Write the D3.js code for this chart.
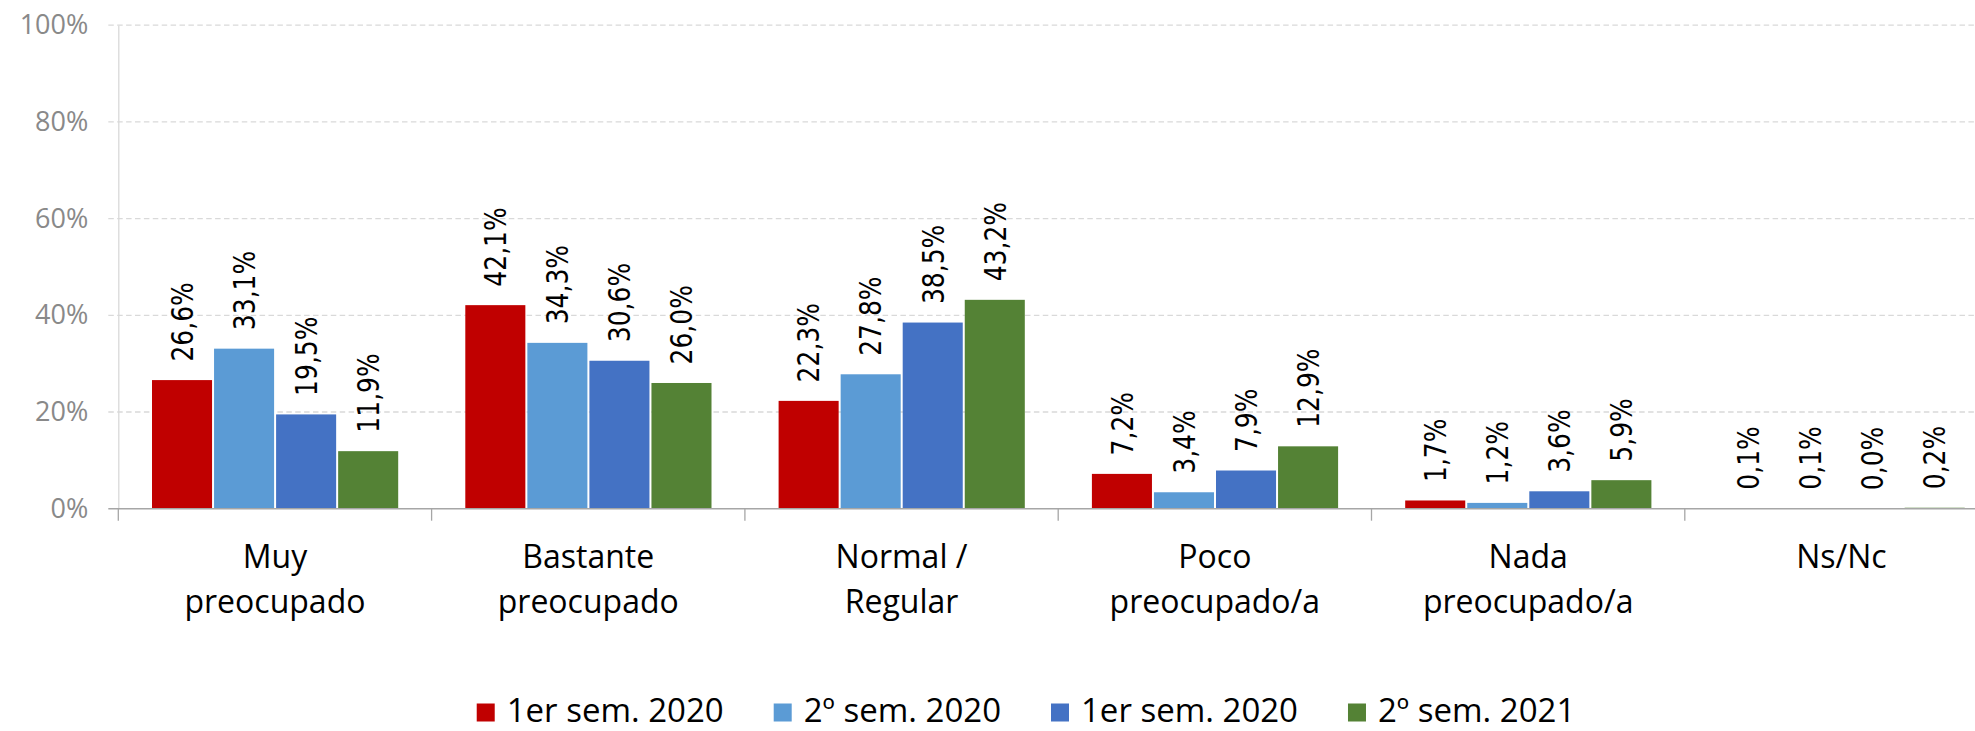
<!DOCTYPE html>
<html>
<head>
<meta charset="utf-8">
<script src="https://cdn.jsdelivr.net/npm/d3@7"></script>
<style>
  html, body { margin: 0; padding: 0; background: #fff; overflow: hidden; }
  svg { display: block; }
</style>
</head>
<body>
<svg id="chart" width="1975" height="731"></svg>
<script>
// ---- Data ----
const categories = ["Muy preocupado", "Bastante preocupado", "Normal / Regular", "Poco preocupado/a", "Nada preocupado/a", "Ns/Nc"];
const categoryLines = [["Muy", "preocupado"], ["Bastante", "preocupado"], ["Normal /", "Regular"], ["Poco", "preocupado/a"], ["Nada", "preocupado/a"], ["Ns/Nc"]];
const seriesNames = ["1er sem. 2020", "2º sem. 2020", "1er sem. 2020 ", "2º sem. 2021"];
const seriesLegend = ["1er sem. 2020", "2º sem. 2020", "1er sem. 2020", "2º sem. 2021"];
const seriesColors = ["#C00000", "#5B9BD5", "#4472C4", "#548235"];
const s1 = [26.6, 42.1, 22.3, 7.2, 1.7, 0.1];
const s2 = [33.1, 34.3, 27.8, 3.4, 1.2, 0.1];
const s3 = [19.5, 30.6, 38.5, 7.9, 3.6, 0.0];
const s4 = [11.9, 26.0, 43.2, 12.9, 5.9, 0.2];
const seriesValues = [s1, s2, s3, s4];
const yTicks = [0, 20, 40, 60, 80, 100];

// ---- Layout ----
const svg = d3.select("#chart");
const W = 1975;
const x0 = 118.3, catW = 313.3;
const yBottom = 508.7, yTop = 25.2;

const x = d3.scaleBand().domain(categories).range([x0, x0 + catW * categories.length]).padding(0);
const xs = d3.scaleBand().domain(seriesNames).range([32.7, catW - 32.4]).padding(0);
const y = d3.scaleLinear().domain([0, 100]).range([yBottom, yTop]);

// gridlines
svg.append("g").selectAll("line")
  .data(yTicks.filter(d => d > 0))
  .join("line")
  .attr("x1", x0 - 10).attr("x2", W)
  .attr("y1", d => y(d)).attr("y2", d => y(d))
  .attr("stroke", "#d9d9d9").attr("stroke-width", 1.3)
  .attr("stroke-dasharray", "5.5,3.4");

// y axis
const yAxis = svg.append("g")
  .attr("transform", `translate(${x0},0)`)
  .call(d3.axisLeft(y).tickValues(yTicks).tickFormat(d => d + "%").tickSize(0).tickPadding(30));
yAxis.select(".domain").attr("stroke", "#d9d9d9").attr("stroke-width", 1.3);
yAxis.selectAll("text")
  .attr("fill", "#898989")
  .style("font-family", "'Open Sans', sans-serif")
  .style("font-size", "27px");

// bars
const groups = svg.append("g").selectAll("g")
  .data(categories)
  .join("g")
  .attr("transform", d => `translate(${x(d)},0)`);

groups.each(function(cat, ci) {
  const g = d3.select(this);
  seriesNames.forEach((s, si) => {
    const v = seriesValues[si][ci];
    g.append("rect")
      .attr("x", xs(s) + 1)
      .attr("width", xs.bandwidth() - 2)
      .attr("y", y(v))
      .attr("height", yBottom - y(v))
      .attr("fill", seriesColors[si]);
    const cx = xs(s) + xs.bandwidth() / 2;
    g.append("text")
      .attr("transform", `translate(${cx},${y(v) - 18.5}) rotate(-90) scale(1,1.2)`)
      .attr("dy", "0.36em")
      .attr("text-anchor", "start")
      .style("font-family", "'DejaVu Sans', sans-serif")
      .style("font-size", "25px")
      .attr("fill", "#000")
      .text(d3.format(".1f")(v).replace(".", ",") + "%");
  });
});

// x axis line and ticks
svg.append("line")
  .attr("x1", x0 - 10).attr("x2", W)
  .attr("y1", yBottom).attr("y2", yBottom)
  .attr("stroke", "#a6a6a6").attr("stroke-width", 1.5);
svg.append("g").selectAll("line")
  .data(d3.range(categories.length + 1))
  .join("line")
  .attr("x1", i => x0 + i * x.step()).attr("x2", i => x0 + i * x.step())
  .attr("y1", yBottom).attr("y2", yBottom + 12)
  .attr("stroke", "#a6a6a6").attr("stroke-width", 1.3);

// category labels
const catLabels = svg.append("g").selectAll("text")
  .data(categories)
  .join("text")
  .attr("x", d => x(d) + x.bandwidth() / 2)
  .attr("y", 568)
  .attr("text-anchor", "middle")
  .style("font-family", "'Open Sans', sans-serif")
  .style("font-size", "32px")
  .attr("fill", "#000");
catLabels.each(function(d, i) {
  const t = d3.select(this);
  categoryLines[i].forEach((line, li) => {
    t.append("tspan")
      .attr("x", x(d) + x.bandwidth() / 2)
      .attr("y", 568 + li * 45)
      .text(line);
  });
});

// legend
const legend = svg.append("g");
const items = legend.selectAll("g")
  .data(seriesLegend)
  .join("g");
items.append("rect")
  .attr("width", 18).attr("height", 18)
  .attr("y", 703.5)
  .attr("fill", (d, i) => seriesColors[i]);
items.append("text")
  .attr("x", 30)
  .attr("y", 721.5)
  .style("font-family", "'Open Sans', sans-serif")
  .style("font-size", "33px")
  .attr("fill", "#000")
  .text(d => d);
let widths = [];
items.each(function() { widths.push(this.getBBox().width); });
const gap = 50;
const total = d3.sum(widths) + gap * (widths.length - 1);
let cur = 1026 - total / 2;
items.attr("transform", (d, i) => {
  const t = `translate(${cur},0)`;
  cur += widths[i] + gap;
  return t;
});
</script>
</body>
</html>
